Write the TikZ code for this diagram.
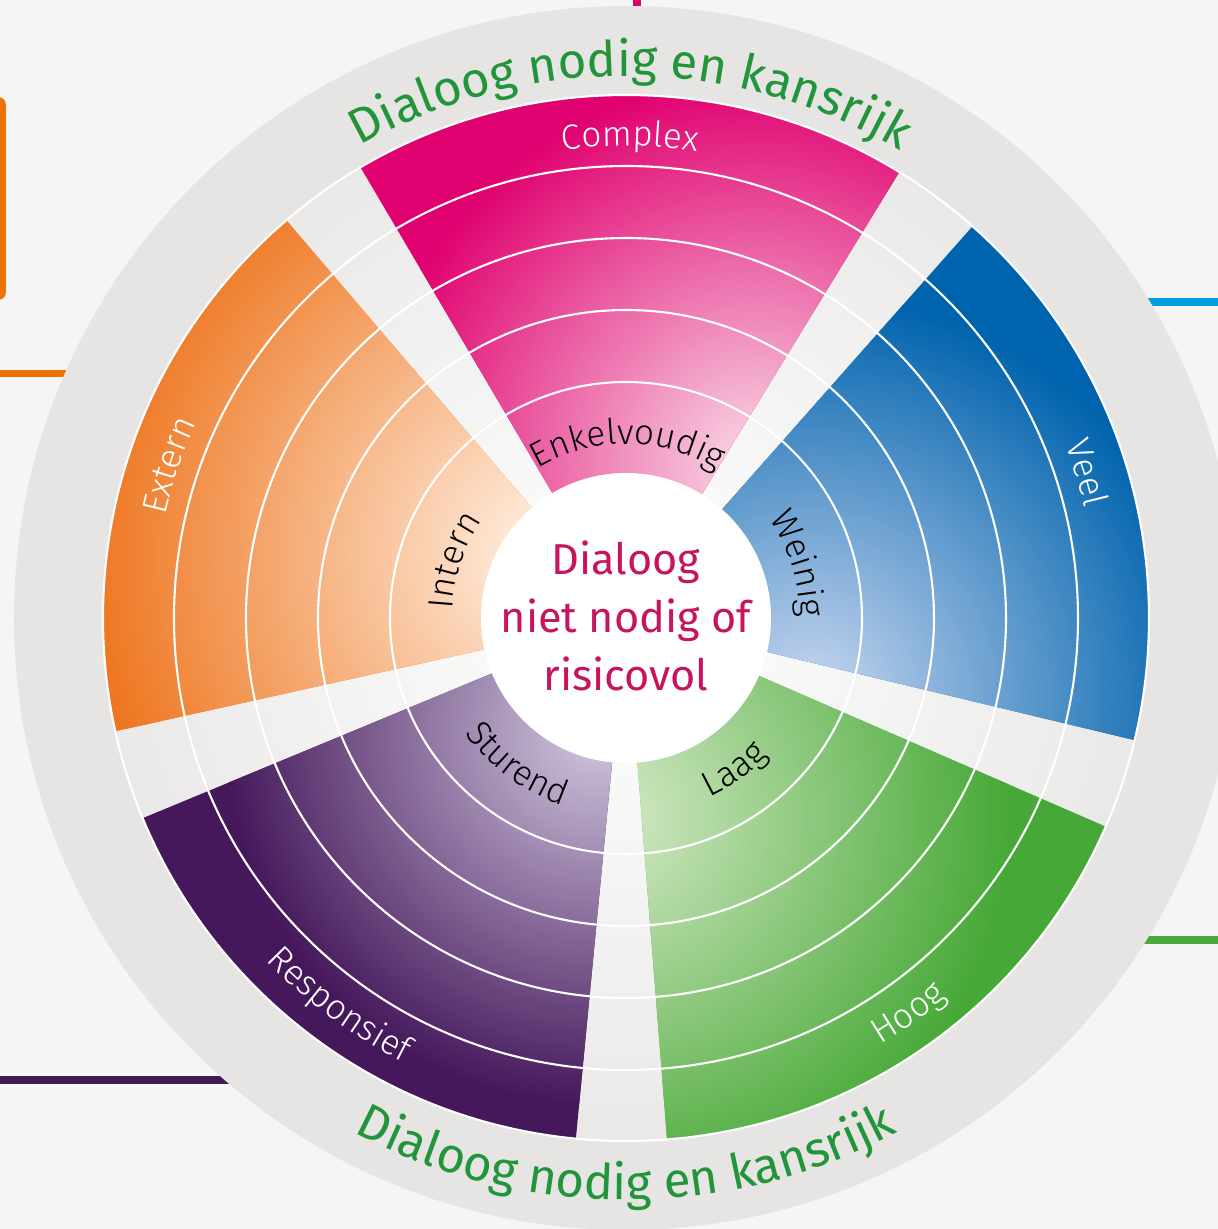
\documentclass[tikz,border=0pt]{standalone}
\usepackage{fontspec}
\setmainfont{Fira Sans Light}
\newfontfamily\firaregular{Fira Sans}
\usetikzlibrary{decorations.text}

\definecolor{bggray}{HTML}{F5F5F5}
\definecolor{ringgray}{HTML}{E6E5E3}
\definecolor{gapgray}{HTML}{EAE9E8}
\definecolor{pinkdark}{HTML}{E0006F}
\definecolor{pinklight}{HTML}{F9DCE8}
\definecolor{bluedark}{HTML}{0063AD}
\definecolor{bluelight}{HTML}{C9D7F0}
\definecolor{greendark}{HTML}{46A836}
\definecolor{greenlight}{HTML}{D5E9C6}
\definecolor{purpledark}{HTML}{45185B}
\definecolor{purplelight}{HTML}{D0C6DE}
\definecolor{orangedark}{HTML}{EE7620}
\definecolor{orangelight}{HTML}{FFF3E8}
\definecolor{cyanline}{HTML}{009EE0}
\definecolor{orangeline}{HTML}{EE7203}
\definecolor{greenline}{HTML}{4DAA3A}
\definecolor{purpleline}{HTML}{44195A}
\definecolor{ringgreen}{HTML}{22943A}
\definecolor{coremagenta}{HTML}{C8135F}

\newcommand{\bandfont}{\fontsize{10}{12}\selectfont}
\newcommand{\ringfont}{\firaregular\fontsize{14}{16}\selectfont}
\newcommand{\corefont}{\firaregular\fontsize{12.3}{16.5}\selectfont}

\tikzset{
  ringline/.style={white, line width=0.6pt},
  feeder/.style={line width=0.075cm},
  bandtext/.style 2 args={decorate, decoration={text along path, text={|\bandfont|#2}, text align=center, text color=#1}},
  ringtext/.style={decorate, decoration={text along path, text={|\ringfont|#1}, text align=center, text color=ringgreen}}
}

\begin{document}
\begin{tikzpicture}
\useasboundingbox (-6.26,-6.11) rectangle (5.92,6.18);
\fill[bggray] (-6.26,-6.11) rectangle (5.92,6.18);

% lines towards the other parts of the page
\coordinate (pinkA) at (0.11,6.18);
\coordinate (pinkB) at (0.11,5.6);
\coordinate (cyanA) at (5.92,3.16);
\coordinate (cyanB) at (4.6,3.16);
\coordinate (orangeA) at (-6.26,2.445);
\coordinate (orangeB) at (-5.0,2.445);
\coordinate (greenA) at (5.92,-3.22);
\coordinate (greenB) at (4.4,-3.22);
\coordinate (purpleA) at (-6.26,-4.62);
\coordinate (purpleB) at (-3.8,-4.62);
\draw[feeder, draw=pinkdark] (pinkA) -- (pinkB);
\draw[feeder, draw=cyanline] (cyanA) -- (cyanB);
\draw[feeder, draw=orangeline] (orangeA) -- (orangeB);
\draw[feeder, draw=greenline] (greenA) -- (greenB);
\draw[feeder, draw=purpleline] (purpleA) -- (purpleB);
\fill[orangeline, rounded corners=0.08cm] (-6.5,3.18) rectangle (-6.20,5.21);

% wheel
\fill[ringgray] (0,0) circle (6.12);
\shade[inner color=white, outer color=gapgray] (0,0) circle (5.23);

% sectors
\begin{scope}
\clip (0,0) -- (58.5:5.23) arc[start angle=58.5, end angle=120.5, radius=5.23] -- cycle;
\fill[pinkdark] (0,0) circle (5.3);
\shade[inner color=pinklight, outer color=pinkdark] (49.5:2.0) circle (3.9);
\end{scope}
\begin{scope}
\clip (0,0) -- (-13.5:5.23) arc[start angle=-13.5, end angle=48.5, radius=5.23] -- cycle;
\fill[bluedark] (0,0) circle (5.3);
\shade[inner color=bluelight, outer color=bluedark] (-22.5:2.0) circle (4.0);
\end{scope}
\begin{scope}
\clip (0,0) -- (-85.5:5.23) arc[start angle=-85.5, end angle=-23.5, radius=5.23] -- cycle;
\fill[greendark] (0,0) circle (5.3);
\shade[inner color=greenlight, outer color=greendark] (-94.5:2.0) circle (4.0);
\end{scope}
\begin{scope}
\clip (0,0) -- (-157.5:5.23) arc[start angle=-157.5, end angle=-95.5, radius=5.23] -- cycle;
\fill[purpledark] (0,0) circle (5.3);
\shade[inner color=purplelight, outer color=purpledark] (-105:1.2) circle (3.7);
\end{scope}
\begin{scope}
\clip (0,0) -- (130.5:5.23) arc[start angle=130.5, end angle=192.5, radius=5.23] -- cycle;
\fill[orangedark] (0,0) circle (5.3);
\shade[inner color=orangelight, outer color=orangedark] (140:1.0) circle (4.6);
\end{scope}

% rings
\draw[ringline] (0,0) circle (2.36);
\draw[ringline] (0,0) circle (3.08);
\draw[ringline] (0,0) circle (3.80);
\draw[ringline] (0,0) circle (4.52);
\draw[ringline] (0,0) circle (5.23);
\fill[white] (0,0) circle (1.45);

% labels in the bands
\path[bandtext={white}{Complex}] (134.5:4.72) arc[start angle=134.5, end angle=44.5, radius=4.72];
\path[bandtext={black}{Enkelvoudig}] (139.5:1.74) arc[start angle=139.5, end angle=39.5, radius=1.74];
\path[bandtext={white}{Veel}] (62.5:4.72) arc[start angle=62.5, end angle=-27.5, radius=4.72];
\path[bandtext={black}{Weinig}] (67.5:1.74) arc[start angle=67.5, end angle=-32.5, radius=1.74];
\path[bandtext={white}{Hoog}] (-99.5:4.97) arc[start angle=-99.5, end angle=-9.5, radius=4.97];
\path[bandtext={black}{Laag}] (-104.5:1.98) arc[start angle=-104.5, end angle=-4.5, radius=1.98];
\path[bandtext={white}{Responsief}] (-171.5:4.97) arc[start angle=-171.5, end angle=-81.5, radius=4.97];
\path[bandtext={black}{Sturend}] (-176.5:1.98) arc[start angle=-176.5, end angle=-76.5, radius=1.98];
\path[bandtext={white}{Extern}] (206.5:4.72) arc[start angle=206.5, end angle=116.5, radius=4.72];
\path[bandtext={black}{Intern}] (211.5:1.74) arc[start angle=211.5, end angle=111.5, radius=1.74];

% outer ring text
\path[ringtext={Dialoog nodig en kansrijk}] (140:5.42) arc[start angle=140, end angle=39, radius=5.42];
\path[ringtext={Dialoog nodig en kansrijk}] (-140:5.82) arc[start angle=-140, end angle=-40, radius=5.82];

\node[align=center, text=coremagenta, font=\corefont] (core) at (0,0.02) {Dialoog\\niet nodig of\\risicovol};
\end{tikzpicture}
\end{document}
